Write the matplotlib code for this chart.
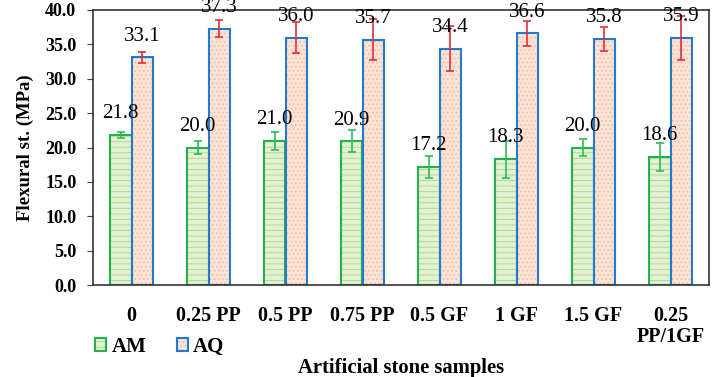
import matplotlib
matplotlib.use("Agg")
import matplotlib.pyplot as plt
import numpy as np

categories = ["0", "0.25 PP", "0.5 PP", "0.75 PP", "0.5 GF", "1 GF", "1.5 GF", "0.25\nPP/1GF"]
am_values = [21.8, 20.0, 21.0, 20.9, 17.2, 18.3, 20.0, 18.6]
am_errors = [0.45, 0.9, 1.3, 1.6, 1.6, 2.7, 1.2, 2.0]
aq_values = [33.1, 37.3, 36.0, 35.7, 34.4, 36.6, 35.8, 35.9]
aq_errors = [0.75, 1.2, 2.3, 3.0, 3.3, 1.8, 1.7, 3.2]
series_names = ["AM", "AQ"]
y_ticks = [0, 5, 10, 15, 20, 25, 30, 35, 40]

plt.rcParams['font.family'] = ['Liberation Serif', 'DejaVu Serif']
plt.rcParams['hatch.linewidth'] = 0.6

fig = plt.figure(figsize=(7.13, 3.77), dpi=100)
ax = fig.add_axes([93/713, 1-285/377, (709-93)/713, (285-10)/377])

x = np.arange(len(categories))
w = 0.285

am_edge = '#22B14C'
aq_edge = '#1F7BD0'

# hatched fills
am_fill = ax.bar(x - w/2, am_values, w, color='#e3f1d2', edgecolor='#a9d88a', hatch='---', linewidth=0)
aq_fill = ax.bar(x + w/2, aq_values, w, color='#fde3d6', edgecolor='#f6b89a', hatch='....', linewidth=0)
# outlines
am_out = ax.bar(x - w/2, am_values, w, fill=False, edgecolor=am_edge, linewidth=1.5)
aq_out = ax.bar(x + w/2, aq_values, w, fill=False, edgecolor=aq_edge, linewidth=1.5)

ax.errorbar(x - w/2, am_values, yerr=am_errors, fmt='none', ecolor='#2dbb5a', elinewidth=1.2, capsize=3, capthick=1.2)
ax.errorbar(x + w/2, aq_values, yerr=aq_errors, fmt='none', ecolor='#e0303a', elinewidth=1.2, capsize=3, capthick=1.2)

for xi, v in zip(x - w/2, am_values):
    ax.annotate(f"{v:.1f}", (xi, v), xytext=(0, 8.5), textcoords='offset points',
                ha='center', va='bottom', fontsize=15, annotation_clip=False)
for xi, v in zip(x + w/2, aq_values):
    ax.annotate(f"{v:.1f}", (xi, v), xytext=(0, 8.5), textcoords='offset points',
                ha='center', va='bottom', fontsize=15, annotation_clip=False)

ax.set_xlim(-0.5, len(categories) - 0.5)
ax.set_ylim(0, 40)
ax.set_yticks(y_ticks)
ax.set_yticklabels([f"{t:.1f}" for t in y_ticks], fontsize=13, fontweight='bold')
ax.set_xticks(x)
ax.set_xticklabels(categories, fontsize=14.5, fontweight='bold', linespacing=1.05)
ax.tick_params(axis='x', length=0, pad=15)
ax.tick_params(axis='y', length=4, width=0.8, color='#444444', pad=8)
for s in ax.spines.values():
    s.set_color('#333333')
    s.set_linewidth(1.2)

ax.set_ylabel("Flexural st. (MPa)", fontsize=13.5, fontweight='bold', labelpad=8)

fig.legend(handles=[(am_fill, am_out), (aq_fill, aq_out)], labels=series_names,
           loc='center left', bbox_to_anchor=(76/713, 1-347/377), ncol=2, frameon=False,
           handlelength=0.55, handleheight=0.55, handletextpad=0.25, columnspacing=1.45,
           prop={'size': 15, 'weight': 'bold'})

fig.text(401/713, 1-373/377, "Artificial stone samples", ha='center', va='baseline',
         fontsize=14.9, fontweight='bold')

fig.savefig("out.png", dpi=100)
